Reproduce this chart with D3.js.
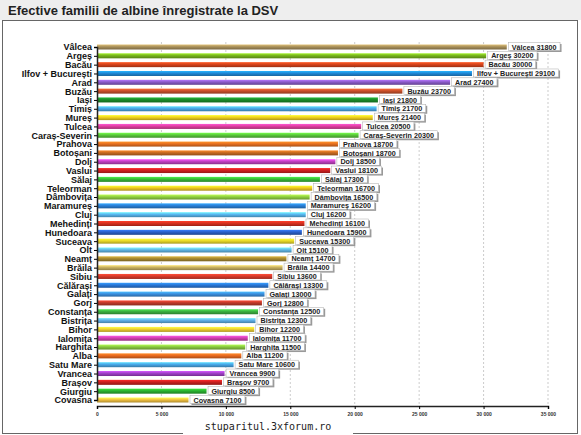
<!DOCTYPE html>
<html><head><meta charset="utf-8">
<script src="https://cdn.jsdelivr.net/npm/d3@7"></script>
<style>body{margin:0;background:#fff;font-family:"Liberation Sans",Arial,sans-serif}</style>
</head><body><svg id="c" width="581" height="435"></svg>
<script>
const judete = ["Vâlcea","Argeș","Bacău","Ilfov + București","Arad","Buzău","Iași","Timiș","Mureș","Tulcea","Caraș-Severin","Prahova","Botoșani","Dolj","Vaslui","Sălaj","Teleorman","Dâmbovița","Maramureș","Cluj","Mehedinți","Hunedoara","Suceava","Olt","Neamț","Brăila","Sibiu","Călărași","Galați","Gorj","Constanța","Bistrița","Bihor","Ialomița","Harghita","Alba","Satu Mare","Vrancea","Brașov","Giurgiu","Covasna"];
const familii = [31800,30200,30000,29100,27400,23700,21800,21700,21400,20500,20300,18700,18700,18500,18100,17300,16700,16500,16200,16200,16100,15900,15300,15100,14700,14400,13600,13300,13000,12800,12500,12300,12200,11700,11500,11200,10600,9900,9700,8500,7100];
const culori = ["#a8905a","#78b41e","#d8441c","#1e88d8","#8a5ac8","#c8502a","#1a8c2a","#4aa8e8","#f0d020","#e040a0","#5ac83a","#e87020","#c86a20","#c040c0","#d02020","#38b838","#f0c820","#90d040","#2a80d8","#58b8f0","#d83020","#2a60c8","#e8d828","#60b8e8","#a88a30","#c8b060","#d83a2a","#2a78d8","#3a90e0","#c03a2a","#3ab040","#60b0e8","#f0d030","#d040b0","#88c840","#e86a20","#48a8e8","#a040c8","#c82020","#2ab030","#f0c040"];
const ticks = [0,5000,10000,15000,20000,25000,30000,35000];

const svg = d3.select("#c");
// header
svg.append("rect").attr("x",0).attr("y",0).attr("width",581).attr("height",20).attr("fill","#eeeeee");
svg.append("text").attr("x",8).attr("y",15).attr("font-size",13).attr("font-weight","bold").attr("fill","#222").text("Efective familii de albine înregistrate la DSV");
svg.append("rect").attr("x",2.5).attr("y",20.5).attr("width",575).attr("height",413).attr("fill","#fff").attr("stroke","#666");

const x = d3.scaleLinear().domain([0,35000]).range([97,548]);
const y = d3.scalePoint().domain(judete).range([47,400]);

// grid
svg.append("g").selectAll("line").data(ticks.slice(1)).join("line")
  .attr("x1",d=>x(d)).attr("x2",d=>x(d)).attr("y1",42).attr("y2",405)
  .attr("stroke","#aaa").attr("stroke-dasharray","2,2").attr("stroke-width",0.6);

const defs = svg.append("defs");
culori.forEach((c,i)=>{
  const g = defs.append("linearGradient").attr("id","g"+i).attr("x1",0).attr("x2",0).attr("y1",0).attr("y2",1);
  g.append("stop").attr("offset","0%").attr("stop-color",d3.color(c).brighter(0.8));
  g.append("stop").attr("offset","45%").attr("stop-color",c);
  g.append("stop").attr("offset","100%").attr("stop-color",d3.color(c).darker(0.9));
});

// bars
svg.append("g").selectAll("rect").data(familii).join("rect")
  .attr("x",x(0)).attr("y",(d,i)=>y(judete[i])-2.5).attr("height",5)
  .attr("width",d=>x(d)-x(0)).attr("fill",(d,i)=>`url(#g${i})`);

// axes
const ya = svg.append("g").attr("transform",`translate(${x(0)},0)`)
  .call(d3.axisLeft(y).tickSize(3).tickPadding(2));
ya.select(".domain").attr("stroke","#222").attr("stroke-width",1.5);
ya.selectAll("text").attr("font-size",9).attr("font-weight","bold").attr("fill","#111").attr("font-family","Liberation Sans, Arial");
const xa = svg.append("g").attr("transform",`translate(0,406)`)
  .call(d3.axisBottom(x).tickValues(ticks).tickSize(3).tickFormat(d=>d3.format(",")(d).replace(","," ")));
xa.select(".domain").attr("stroke","#222").attr("stroke-width",1.5);
xa.selectAll("text").attr("font-size",5).attr("font-weight","bold").attr("fill","#333");

// value labels
const lab = svg.append("g").selectAll("g").data(familii).join("g")
  .attr("transform",(d,i)=>`translate(${x(d)+1},${y(judete[i])})`);
lab.each(function(d,i){
  const g = d3.select(this);
  const t = g.append("text").attr("x",4).attr("y",2.6).attr("font-size",7.2).attr("font-weight","bold").attr("fill","#222")
    .text(judete[i]+" "+d);
  const w = t.node().getComputedTextLength()+7;
  g.insert("rect","text").attr("x",2).attr("y",-3).attr("width",w).attr("height",8).attr("fill","#999");
  g.insert("rect","text").attr("x",0.5).attr("y",-4.5).attr("width",w).attr("height",8).attr("fill","#fff").attr("stroke","#aaa").attr("stroke-width",0.5);
});

// watermark
svg.append("rect").attr("x",183).attr("y",418).attr("width",170).attr("height",17).attr("fill","#fff");
svg.append("text").attr("x",268).attr("y",430).attr("text-anchor","middle").attr("font-size",10).attr("font-family","DejaVu Sans Mono").attr("fill","#222").text("stuparitul.3xforum.ro");
</script></body></html>
